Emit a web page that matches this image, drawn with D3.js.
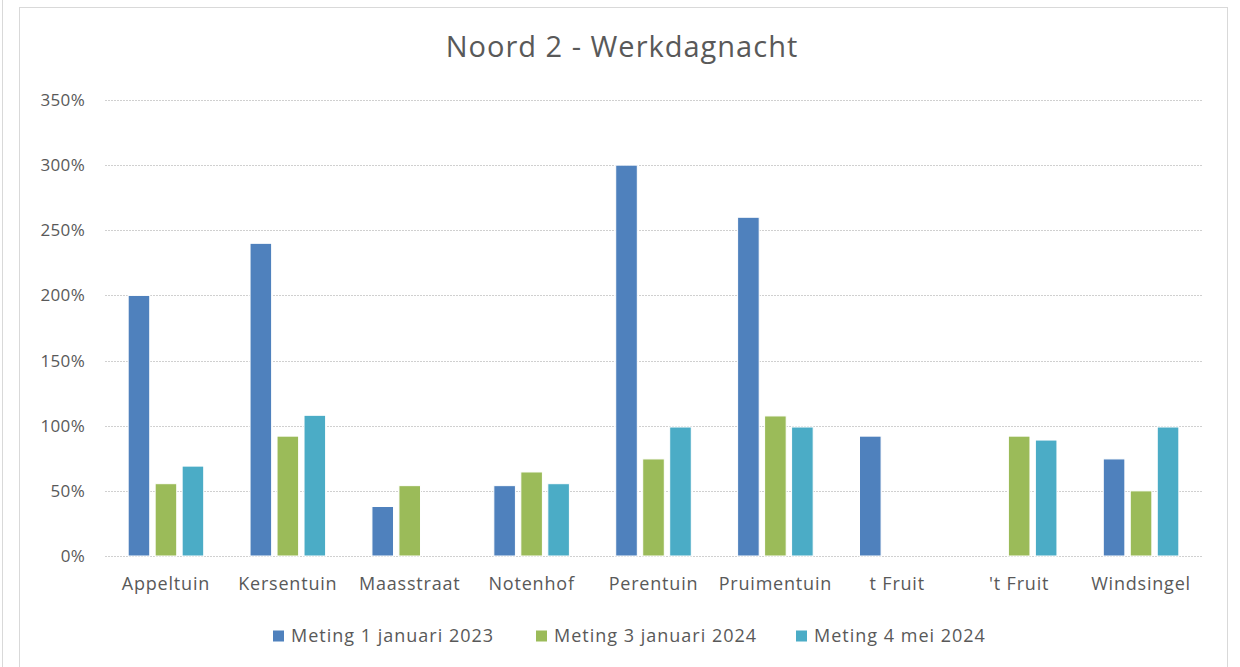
<!DOCTYPE html>
<html>
<head>
<meta charset="utf-8">
<script src="https://cdn.jsdelivr.net/npm/d3@7"></script>
<style>
  body { margin: 0; background: #fff; }
  text { font-family: "Open Sans", sans-serif; fill: #595959; }
</style>
</head>
<body>
<div id="chart"></div>
<script>
var categories = ["Appeltuin", "Kersentuin", "Maasstraat", "Notenhof", "Perentuin", "Pruimentuin", "t Fruit", "'t Fruit", "Windsingel"];
var seriesNames = ["Meting 1 januari 2023", "Meting 3 januari 2024", "Meting 4 mei 2024"];
var meting2023 = [2.00, 2.40, 0.38, 0.54, 3.00, 2.60, 0.92, null, 0.745];
var meting2024jan = [0.555, 0.92, 0.54, 0.645, 0.745, 1.075, null, 0.92, 0.50];
var meting2024mei = [0.69, 1.08, null, 0.555, 0.99, 0.99, null, 0.89, 0.99];
var yTicks = [0, 0.5, 1, 1.5, 2, 2.5, 3, 3.5];
var colors = ["#4F81BD", "#9BBB59", "#4BACC6"];

var width = 1240, height = 667;
var allSeries = [meting2023, meting2024jan, meting2024mei];

var svg = d3.select("#chart").append("svg")
  .attr("width", width)
  .attr("height", height);

// outer frame
svg.append("line")
  .attr("x1", 2.5).attr("x2", 2.5).attr("y1", 0).attr("y2", height)
  .style("stroke", "#d9d9d9");
svg.append("rect")
  .attr("x", 19.5).attr("y", 7.5)
  .attr("width", 1208).attr("height", 680)
  .style("fill", "#fff")
  .style("stroke", "#d9d9d9");

var y = d3.scaleLinear().domain([0, 3.5]).range([556, 100]);
var x0 = d3.scaleBand().domain(categories).range([105, 1202]).paddingInner(0.38).paddingOuter(0.19);
var x1 = d3.scaleBand().domain(d3.range(3)).range([0, x0.bandwidth()]).paddingInner(0.2);

// gridlines
svg.append("g")
  .selectAll("line")
  .data(yTicks)
  .enter().append("line")
  .attr("x1", 105).attr("x2", 1202)
  .attr("y1", function(d) { return Math.round(y(d)) + 0.5; })
  .attr("y2", function(d) { return Math.round(y(d)) + 0.5; })
  .style("stroke", "#d0d0d0")
  .style("stroke-dasharray", "2,1");

// y labels
svg.append("g")
  .selectAll("text")
  .data(yTicks)
  .enter().append("text")
  .attr("x", 85)
  .attr("y", function(d) { return y(d); })
  .attr("dy", "0.35em")
  .attr("text-anchor", "end")
  .style("font-size", "17px")
  .style("letter-spacing", "0.3px")
  .text(function(d) { return d3.format(".0%")(d); });

// bars
var groups = svg.append("g")
  .selectAll("g")
  .data(categories)
  .enter().append("g")
  .attr("transform", function(d) { return "translate(" + x0(d) + ",0)"; });

groups.selectAll("rect")
  .data(function(d, i) {
    return allSeries.map(function(s, k) { return {k: k, v: s[i]}; })
      .filter(function(e) { return e.v != null; });
  })
  .enter().append("rect")
  .attr("x", function(d) { return x1(d.k); })
  .attr("y", function(d) { return y(d.v); })
  .attr("width", x1.bandwidth())
  .attr("height", function(d) { return y(0) - y(d.v); })
  .style("fill", function(d) { return colors[d.k]; })
  .style("stroke", "#fff")
  .style("stroke-width", 1);

// category labels
svg.append("g")
  .selectAll("text")
  .data(categories)
  .enter().append("text")
  .attr("x", function(d) { return x0(d) + x0.bandwidth() / 2; })
  .attr("y", 590)
  .attr("text-anchor", "middle")
  .style("font-size", "18px")
  .style("letter-spacing", "0.8px")
  .text(function(d) { return d; });

// title
svg.append("text")
  .attr("x", 622)
  .attr("y", 57)
  .attr("text-anchor", "middle")
  .style("font-size", "29px")
  .style("letter-spacing", "1px")
  .text("Noord 2 - Werkdagnacht");

// legend
var legendX = [273, 536, 796];
var legend = svg.append("g")
  .selectAll("g")
  .data(seriesNames)
  .enter().append("g")
  .attr("transform", function(d, i) { return "translate(" + legendX[i] + ",636)"; });

legend.append("rect")
  .attr("x", 0).attr("y", -5.5)
  .attr("width", 11).attr("height", 11)
  .style("fill", function(d, i) { return colors[i]; });

legend.append("text")
  .attr("x", 18)
  .attr("dy", "0.35em")
  .style("font-size", "18px")
  .style("letter-spacing", "1px")
  .text(function(d) { return d; });
</script>
</body>
</html>
